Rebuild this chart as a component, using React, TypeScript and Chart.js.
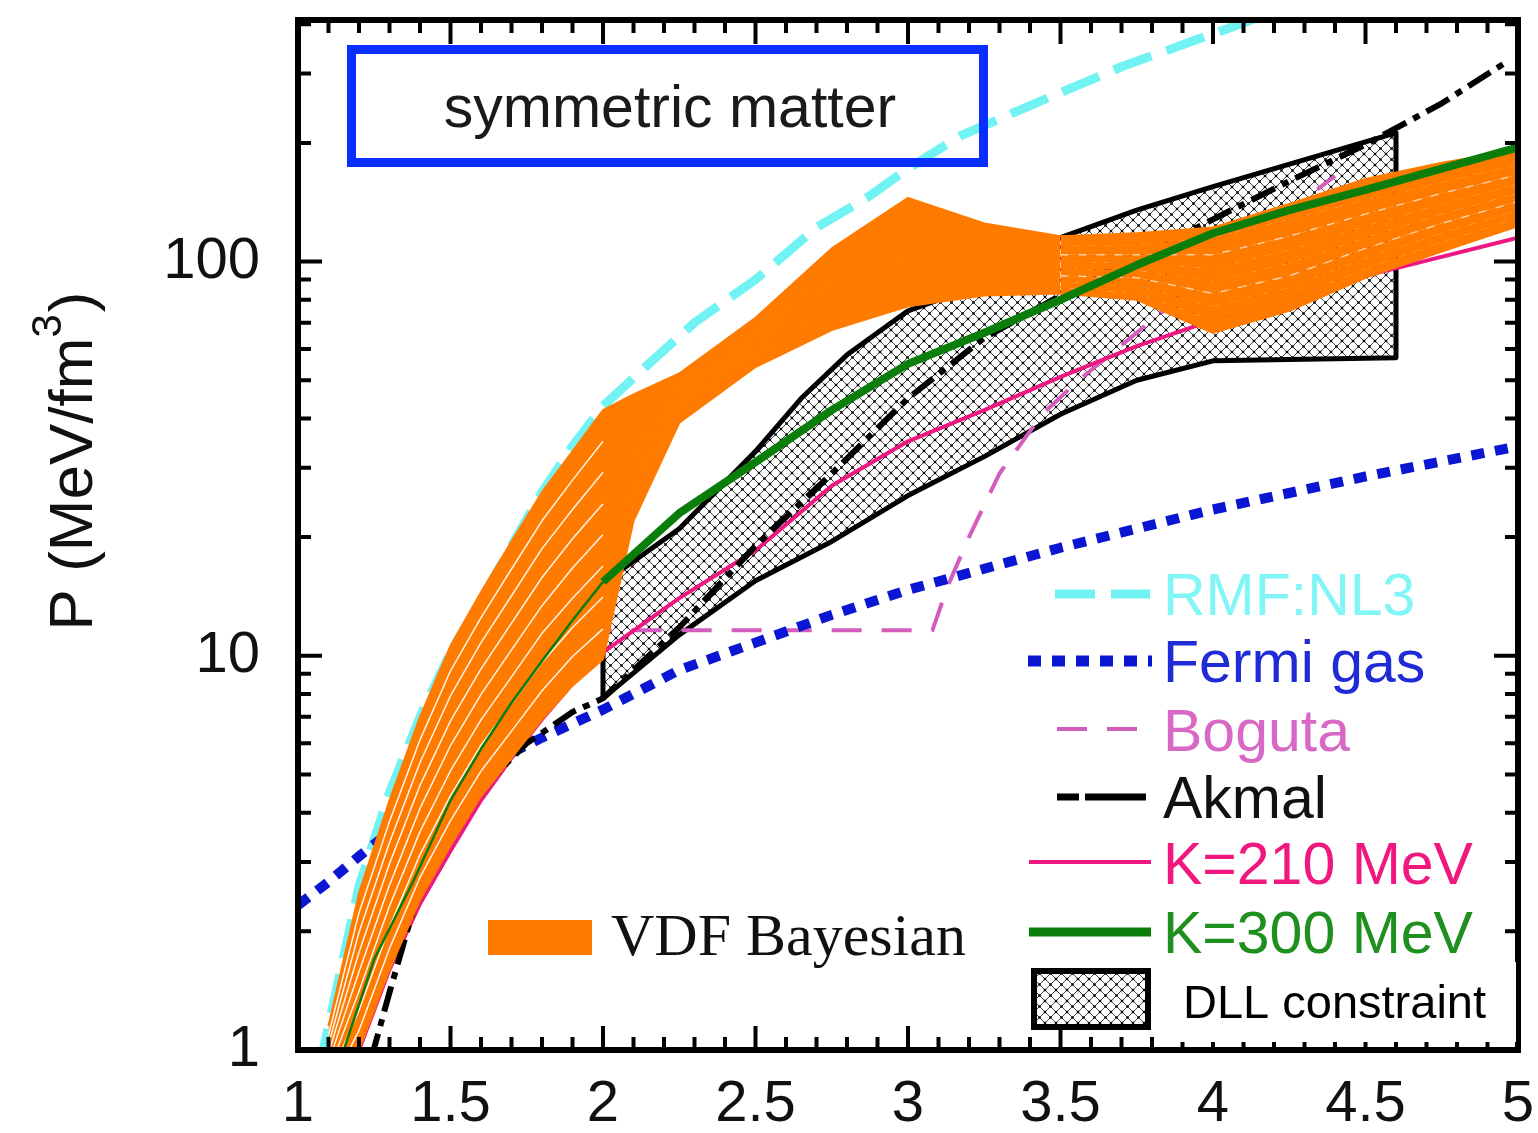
import React, { useEffect, useRef } from 'react';
import { Chart, registerables } from 'chart.js';

Chart.register(...registerables);

const SANS = '"Liberation Sans", Arial, Helvetica, sans-serif';
const SERIF = '"Liberation Serif", "Times New Roman", serif';

const ORANGE = '#ff7b00';
const CYAN = '#72f3f3';
const BLUE = '#0a16d2';
const BOGUTA = '#d45cbd';
const PINK = '#ee1680';
const GREEN = '#0b7d0b';
const BOXBLUE = '#0a2eff';

// axis ticks / labels
const xTickLabels = [1, 1.5, 2, 2.5, 3, 3.5, 4, 4.5, 5];
const yTickLabels = [1, 10, 100];

// RMF:NL3
const rmfX = [1.07, 1.1, 1.2, 1.3, 1.4, 1.5, 1.6, 1.7, 1.8, 1.9, 2.0, 2.15, 2.3, 2.5, 2.7, 2.87, 3.0, 3.17, 3.37, 3.7, 4.04, 4.2];
const rmfP = [0.9, 1.15, 2.6, 4.5, 7.0, 10.2, 13.8, 19, 26, 34, 43, 55, 70, 90, 122, 146, 172, 208, 243, 312, 388, 430];

// Fermi gas
const fermiX = [1.0, 1.1, 1.2, 1.4, 1.6, 1.8, 2.0, 2.25, 2.5, 2.75, 3.0, 3.5, 4.0, 4.5, 5.0];
const fermiP = [2.33, 2.67, 3.1, 4.1, 5.2, 6.2, 7.3, 9.2, 10.8, 12.7, 14.7, 18.8, 23.5, 28.5, 34];

// Boguta
const bogutaX = [1.93, 3.08, 3.13, 3.2, 3.3, 3.44, 3.56, 3.75, 4.0, 4.4];
const bogutaP = [11.6, 11.6, 15, 20, 29, 41, 50, 66, 95, 165];

// Akmal
const akmalX = [1.24, 1.3, 1.4, 1.5, 1.6, 1.75, 1.9, 2.0, 2.25, 2.5, 2.75, 3.0, 3.25, 3.5, 3.75, 4.0, 4.25, 4.5, 4.75, 4.96];
const akmalP = [0.95, 1.4, 2.6, 3.6, 4.6, 6.0, 7.2, 7.8, 11.8, 19, 29, 45, 64, 82, 102, 128, 160, 198, 252, 320];

// K = 210 MeV
const k210X = [1.15, 1.2, 1.3, 1.4, 1.5, 1.6, 1.7, 1.8, 1.9, 2.0, 2.25, 2.5, 2.75, 3.0, 3.25, 3.5, 3.75, 4.0, 4.5, 5.0];
const k210P = [0.8, 1.0, 1.6, 2.35, 3.2, 4.3, 5.5, 6.9, 8.5, 10.2, 14.0, 18.5, 27, 35, 42, 51, 61, 71, 92, 115];

// K = 300 MeV
const k300X = [1.15, 1.25, 1.38, 1.5, 1.6, 1.7, 1.8, 1.9, 2.0, 2.25, 2.5, 2.75, 3.0, 3.25, 3.5, 3.75, 4.0, 4.25, 4.5, 4.75, 5.0];
const k300P = [1.0, 1.7, 2.7, 4.3, 5.8, 7.6, 9.7, 12.3, 15.4, 23, 31, 42, 55, 66, 80, 98, 118, 135, 152, 172, 195];

// DLL constraint (lower and upper boundaries)
const dllLowX = [2.0, 2.25, 2.5, 2.75, 3.0, 3.25, 3.5, 3.75, 4.0, 4.6];
const dllLowP = [7.8, 11.3, 15.5, 19.5, 25.5, 32, 41, 50, 56, 57];
const dllHighX = [2.0, 2.25, 2.5, 2.65, 2.8, 3.0, 3.25, 3.5, 3.75, 4.0, 4.6];
const dllHighP = [15.3, 21, 33, 45, 58, 75, 88, 115, 135, 155, 212];

// VDF Bayesian family
const vdfX = [1.1, 1.2, 1.3, 1.4, 1.5, 1.6, 1.7, 1.8, 1.9, 2.0, 2.1, 2.25, 2.5, 2.75, 3.0, 3.25, 3.5, 3.75, 4.0, 4.25, 4.5, 4.75, 5.0];
const vdf0 = [0.75, 1.0, 1.6, 2.4, 3.3, 4.4, 5.5, 6.9, 8.4, 9.8, 22, 39, 54, 67, 77, 82, 83, 80, 66, 75, 91, 106, 123];
const vdf1 = [0.79, 1.12, 1.81, 2.74, 3.82, 5.1, 6.44, 8.15, 9.96, 11.7, 24, 40, 56, 71, 83, 86, 86, 83, 71, 80, 96, 112, 129];
const vdf2 = [0.84, 1.26, 2.05, 3.13, 4.42, 5.93, 7.55, 9.62, 11.8, 14.1, 26, 42, 58, 75, 89, 90, 89, 87, 77, 86, 102, 118, 135];
const vdf3 = [0.88, 1.41, 2.32, 3.58, 5.11, 6.88, 8.84, 11.4, 14.0, 16.9, 28, 43, 60, 79, 96, 94, 92, 91, 83, 92, 108, 125, 142];
const vdf4 = [0.93, 1.58, 2.62, 4.1, 5.92, 7.98, 10.35, 13.4, 16.7, 20.3, 30, 45, 62, 84, 104, 99, 96, 95, 89, 99, 115, 132, 149];
const vdf5 = [0.98, 1.77, 2.97, 4.69, 6.84, 9.26, 12.1, 15.8, 19.8, 24.3, 33, 46, 64, 89, 112, 104, 100, 99, 96, 107, 123, 140, 157];
const vdf6 = [1.03, 1.99, 3.36, 5.36, 7.92, 10.8, 14.2, 18.7, 23.5, 29.2, 36, 48, 66, 95, 122, 110, 104, 104, 104, 116, 132, 149, 166];
const vdf7 = [1.09, 2.23, 3.8, 6.12, 9.16, 12.5, 16.6, 22.0, 27.9, 35.0, 40, 50, 69, 101, 133, 117, 110, 110, 115, 128, 143, 159, 176];
const vdf8 = [1.15, 2.5, 4.3, 7.0, 10.6, 14.5, 19.5, 26, 33, 42, 46, 52, 72, 108, 145, 125, 116, 118, 122, 140, 162, 178, 192];
const vdfSeries = [vdf0, vdf1, vdf2, vdf3, vdf4, vdf5, vdf6, vdf7, vdf8];

const pts = (xs: number[], ys: number[]) => xs.map((x, i) => ({ x, y: ys[i] }));

function makeHatch(ctx: CanvasRenderingContext2D) {
  const c = document.createElement('canvas');
  const s = 11;
  c.width = s;
  c.height = s;
  const g = c.getContext('2d')!;
  g.fillStyle = '#fff';
  g.fillRect(0, 0, s, s);
  g.strokeStyle = '#444';
  g.lineWidth = 1;
  g.beginPath();
  g.moveTo(-1, -1); g.lineTo(s + 1, s + 1);
  g.moveTo(s + 1, -1); g.lineTo(-1, s + 1);
  g.stroke();
  g.fillStyle = '#000';
  g.fillRect(s / 2 - 1.2, s / 2 - 1.2, 2.4, 2.4);
  g.fillRect(-1.2, -1.2, 2.4, 2.4);
  g.fillRect(s - 1.2, -1.2, 2.4, 2.4);
  g.fillRect(-1.2, s - 1.2, 2.4, 2.4);
  g.fillRect(s - 1.2, s - 1.2, 2.4, 2.4);
  return ctx.createPattern(c, 'repeat') as CanvasPattern;
}

const DASH = {
  rmf: [40, 16],
  fermi: [13, 11],
  boguta: [30, 20],
  akmal: [26, 8, 7, 8],
};

export default function App() {
  const ref = useRef<HTMLCanvasElement | null>(null);

  useEffect(() => {
    const canvas = ref.current!;
    const ctx0 = canvas.getContext('2d')!;
    const hatch = makeHatch(ctx0);

    const vdfDatasets = vdfSeries.map((arr, i) => {
      const edge = i === 0 || i === vdfSeries.length - 1;
      const dashedRight = i === 3 || i === 6;
      return {
        label: 'VDF' + i,
        data: pts(vdfX, arr),
        borderColor: ORANGE,
        backgroundColor: ORANGE,
        borderWidth: edge ? 2 : 1.5,
        fill: i === 0 ? false : '-1',
        order: 1,
        segment: edge ? undefined : {
          borderColor: (c: any) => {
            const x = c.p0.parsed.x;
            if (x < 2) return 'rgba(255,255,255,0.9)';
            if (x >= 3.5 && dashedRight) return 'rgba(255,255,255,0.6)';
            return ORANGE;
          },
          borderDash: (c: any) => (c.p0.parsed.x >= 3.5 ? [8, 10] : undefined),
        },
      };
    });

    const dllPoly = [
      ...pts(dllLowX, dllLowP),
      ...pts(dllHighX, dllHighP).reverse(),
      { x: dllLowX[0], y: dllLowP[0] },
    ];

    const overlay = {
      id: 'overlay',
      afterDatasetsDraw(chart: any) {
        const { ctx, chartArea: a, scales } = chart;
        const xs = scales.x;
        const ys = scales.y;
        ctx.save();
        ctx.strokeStyle = '#000';
        ctx.lineWidth = 4;
        ctx.beginPath();
        for (let i = 10; i <= 50; i++) {
          const px = xs.getPixelForValue(i / 10);
          const len = i % 5 === 0 ? 24 : 13;
          ctx.moveTo(px, a.bottom); ctx.lineTo(px, a.bottom - len);
          ctx.moveTo(px, a.top); ctx.lineTo(px, a.top + len);
        }
        for (const dec of [1, 10, 100]) {
          for (let m = 1; m <= 9; m++) {
            const v = dec * m;
            if (v > ys.max) continue;
            const py = ys.getPixelForValue(v);
            const len = m === 1 ? 24 : 13;
            ctx.moveTo(a.left, py); ctx.lineTo(a.left + len, py);
            ctx.moveTo(a.right, py); ctx.lineTo(a.right - len, py);
          }
        }
        ctx.stroke();
        ctx.lineWidth = 6;
        ctx.strokeRect(a.left, a.top, a.right - a.left, a.bottom - a.top);
        ctx.restore();
      },
      afterDraw(chart: any) {
        const { ctx } = chart;
        ctx.save();
        // title box
        ctx.strokeStyle = BOXBLUE;
        ctx.lineWidth = 9;
        ctx.strokeRect(351.5, 49.5, 632, 113);
        ctx.fillStyle = '#1a1a1a';
        ctx.font = `59px ${SANS}`;
        ctx.textAlign = 'center';
        ctx.textBaseline = 'alphabetic';
        ctx.fillText('symmetric matter', 670, 127);

        // y axis title
        ctx.save();
        ctx.translate(92, 462);
        ctx.rotate(-Math.PI / 2);
        ctx.textAlign = 'left';
        ctx.fillStyle = '#111';
        const big = `62px ${SANS}`;
        const small = `42px ${SANS}`;
        ctx.font = big;
        const t1 = 'P (MeV/fm';
        const w1 = ctx.measureText(t1).width;
        ctx.font = small;
        const w2 = ctx.measureText('3').width;
        ctx.font = big;
        const w3 = ctx.measureText(')').width;
        const start = -(w1 + w2 + w3) / 2;
        ctx.fillText(t1, start, 0);
        ctx.font = small;
        ctx.fillText('3', start + w1, -31);
        ctx.font = big;
        ctx.fillText(')', start + w1 + w2 + 2, 0);
        ctx.restore();

        // legend (right)
        const line = (x1: number, x2: number, y: number, color: string, w: number, dash: number[]) => {
          ctx.save();
          ctx.strokeStyle = color;
          ctx.lineWidth = w;
          ctx.lineCap = 'butt';
          ctx.setLineDash(dash);
          ctx.beginPath();
          ctx.moveTo(x1, y);
          ctx.lineTo(x2, y);
          ctx.stroke();
          ctx.restore();
        };
        line(1055, 1150, 594, CYAN, 9, DASH.rmf);
        line(1028, 1152, 661, BLUE, 11, DASH.fermi);
        line(1057, 1147, 729, BOGUTA, 4, DASH.boguta);
        ctx.save();
        ctx.strokeStyle = '#000';
        ctx.lineWidth = 7;
        ctx.beginPath();
        ctx.moveTo(1057, 797); ctx.lineTo(1079, 797);
        ctx.moveTo(1085, 797); ctx.lineTo(1146, 797);
        ctx.stroke();
        ctx.restore();
        line(1029, 1151, 862, PINK, 4, []);
        line(1029, 1151, 932, GREEN, 9, []);

        ctx.textAlign = 'left';
        ctx.font = `59px ${SANS}`;
        const entries: [string, string, number][] = [
          ['RMF:NL3', '#82f6f6', 615],
          ['Fermi gas', '#1e2bd6', 682],
          ['Boguta', '#d768c6', 751],
          ['Akmal', '#111111', 818],
          ['K=210 MeV', '#f0187e', 884],
          ['K=300 MeV', '#1f8f1f', 953],
        ];
        for (const [t, c, y] of entries) {
          ctx.fillStyle = c;
          ctx.fillText(t, 1163, y);
        }

        // DLL legend
        ctx.fillStyle = '#fff';
        ctx.fillRect(1162, 962, 354, 80);
        ctx.fillStyle = hatch;
        ctx.fillRect(1034, 971, 114, 56);
        ctx.strokeStyle = '#000';
        ctx.lineWidth = 6;
        ctx.strokeRect(1034, 971, 114, 56);
        ctx.fillStyle = '#000';
        ctx.font = `47px ${SANS}`;
        ctx.fillText('DLL constraint', 1183, 1018);

        // VDF legend
        ctx.fillStyle = ORANGE;
        ctx.fillRect(488, 920, 104, 35);
        ctx.fillStyle = '#111';
        ctx.font = `60px ${SERIF}`;
        ctx.fillText('VDF Bayesian', 611, 955);
        ctx.restore();
      },
    };

    const chart = new Chart(canvas, {
      type: 'line',
      data: {
        datasets: [
          {
            label: 'K=300 MeV',
            data: pts(k300X, k300P),
            borderColor: GREEN,
            borderWidth: 8,
            fill: false,
            order: 0,
            segment: { borderWidth: (c: any) => (c.p0.parsed.x < 2 ? 2.5 : 8) },
          },
          ...vdfDatasets,
          {
            label: 'Akmal',
            data: pts(akmalX, akmalP),
            borderColor: '#000',
            borderWidth: 6,
            borderDash: DASH.akmal,
            fill: false,
            order: 2,
          },
          {
            label: 'Fermi gas',
            data: pts(fermiX, fermiP),
            borderColor: BLUE,
            borderWidth: 10,
            borderDash: DASH.fermi,
            fill: false,
            order: 3,
          },
          {
            label: 'K=210 MeV',
            data: pts(k210X, k210P),
            borderColor: PINK,
            borderWidth: 4,
            fill: false,
            order: 4,
          },
          {
            label: 'Boguta',
            data: pts(bogutaX, bogutaP),
            borderColor: BOGUTA,
            borderWidth: 4,
            borderDash: DASH.boguta,
            fill: false,
            order: 5,
          },
          {
            label: 'RMF:NL3',
            data: pts(rmfX, rmfP),
            borderColor: CYAN,
            borderWidth: 9,
            borderDash: DASH.rmf,
            fill: false,
            order: 6,
          },
          {
            label: 'DLL constraint',
            data: dllPoly,
            borderColor: '#000',
            borderWidth: 5,
            backgroundColor: hatch,
            fill: 'shape',
            order: 7,
          },
        ] as any,
      },
      options: {
        animation: false,
        responsive: false,
        maintainAspectRatio: false,
        layout: { padding: { left: 0, right: 20, top: 20, bottom: 0 } },
        plugins: { legend: { display: false }, tooltip: { enabled: false } },
        elements: {
          point: { radius: 0, hoverRadius: 0 },
          line: { tension: 0, borderCapStyle: 'butt', borderJoinStyle: 'round' },
        },
        scales: {
          x: {
            type: 'linear',
            min: 1,
            max: 5,
            grid: { display: false },
            border: { display: false },
            ticks: {
              stepSize: 0.5,
              color: '#111',
              padding: 12,
              font: { family: SANS, size: 58 },
              callback: (v: any) => (xTickLabels.includes(Number(v)) ? String(Number(v)) : ''),
            },
            afterFit: (s: any) => {
              s.height = 83;
              s.paddingLeft = 0;
              s.paddingRight = 0;
            },
          },
          y: {
            type: 'logarithmic',
            min: 1,
            max: 410,
            grid: { display: false },
            border: { display: false },
            ticks: {
              autoSkip: false,
              color: '#111',
              padding: 30,
              font: { family: SANS, size: 58 },
              callback: (v: any) => (yTickLabels.includes(Number(v)) ? String(Number(v)) : ''),
            },
            afterFit: (s: any) => {
              s.width = 298;
              s.paddingTop = 0;
              s.paddingBottom = 0;
            },
          },
        },
      } as any,
      plugins: [overlay],
    });

    return () => chart.destroy();
  }, []);

  return (
    <div style={{ position: 'fixed', left: 0, top: 0, width: 1538, height: 1133, background: '#fff' }}>
      <canvas ref={ref} width={1538} height={1133} style={{ width: 1538, height: 1133, display: 'block' }} />
    </div>
  );
}
